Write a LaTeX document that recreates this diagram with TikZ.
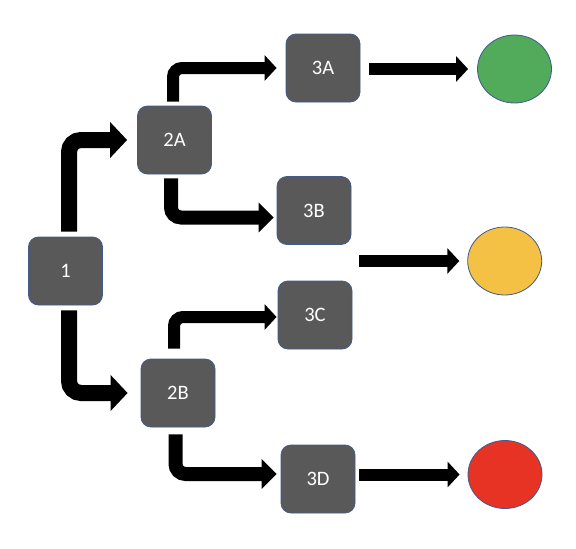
\documentclass[tikz,border=0pt]{standalone}
\usepackage{fontspec}
\setmainfont{Carlito}
\usetikzlibrary{arrows.meta,shapes.geometric}
\definecolor{boxgray}{RGB}{89,89,89}
\definecolor{boxedge}{RGB}{66,90,140}
\definecolor{okgreen}{RGB}{82,171,90}
\definecolor{waityellow}{RGB}{244,193,68}
\definecolor{stopred}{RGB}{231,51,35}

\begin{document}
\begin{tikzpicture}[x=1pt,y=-1pt,
  stepbox/.style={fill=boxgray, draw=boxedge, line width=0.8pt, rounded corners=10pt,
    minimum width=74pt, minimum height=68pt, text=white, font=\fontsize{20.5}{22}\selectfont},
  lamp/.style={ellipse, draw=boxedge, line width=0.8pt, minimum width=74pt, minimum height=68pt},
  bigarrow/.style={line width=16pt, rounded corners=12pt, -{Triangle[width=35pt,length=17pt]}},
  midarrow/.style={line width=14pt, rounded corners=10pt, -{Triangle[width=29pt,length=15pt]}},
  smallarrow/.style={line width=12pt, rounded corners=9pt, -{Triangle[width=25pt,length=12pt]}}]
\useasboundingbox (0,0) rectangle (576,549);
% Boxes
\node[stepbox] (n1) at (65.5,271) {1};
\node[stepbox] (n2A) at (174.5,140) {2A};
\node[stepbox] (n2B) at (178,393) {2B};
\node[stepbox] (n3A) at (323,68) {3A};
\node[stepbox] (n3B) at (314,210.5) {3B};
\node[stepbox] (n3C) at (315,315) {3C};
\node[stepbox] (n3D) at (318,479) {3D};
% Outcomes
\node[lamp, fill=okgreen] (green) at (514.5,69) {};
\node[lamp, fill=waityellow] (yellow) at (504.7,261) {};
\node[lamp, fill=stopred] (red) at (505,474.5) {};
\coordinate (mid) at (359,261);
% Branches
\draw[bigarrow, shorten <=5pt, shorten >=10pt] ([xshift=3.5pt]n1.north) |- (n2A.west);
\draw[bigarrow, shorten <=5pt, shorten >=13pt] ([xshift=3.5pt]n1.south) |- (n2B.west);
\draw[smallarrow, shorten <=4pt, shorten >=9pt] ([xshift=-1.5pt]n2A.north) |- (n3A.west);
\draw[midarrow, shorten <=4pt, shorten >=3pt] ([xshift=-3.5pt]n2A.south) |- ([yshift=-7pt]n3B.west);
\draw[smallarrow, shorten <=10pt, shorten >=1pt] ([xshift=-4pt]n2B.north) |- ([yshift=-2pt]n3C.west);
\draw[midarrow, shorten <=7pt, shorten >=4pt] ([xshift=-2.5pt]n2B.south) |- ([yshift=5pt]n3D.west);
% Results
\draw[smallarrow, shorten <=9pt, shorten >=9pt] (n3A.east |- green.west) -- (green.west);
\draw[smallarrow, shorten >=8pt] (mid) -- (yellow.west);
\draw[smallarrow, shorten <=4pt, shorten >=8pt] (n3D.east |- red.west) -- (red.west);
\end{tikzpicture}
\end{document}
